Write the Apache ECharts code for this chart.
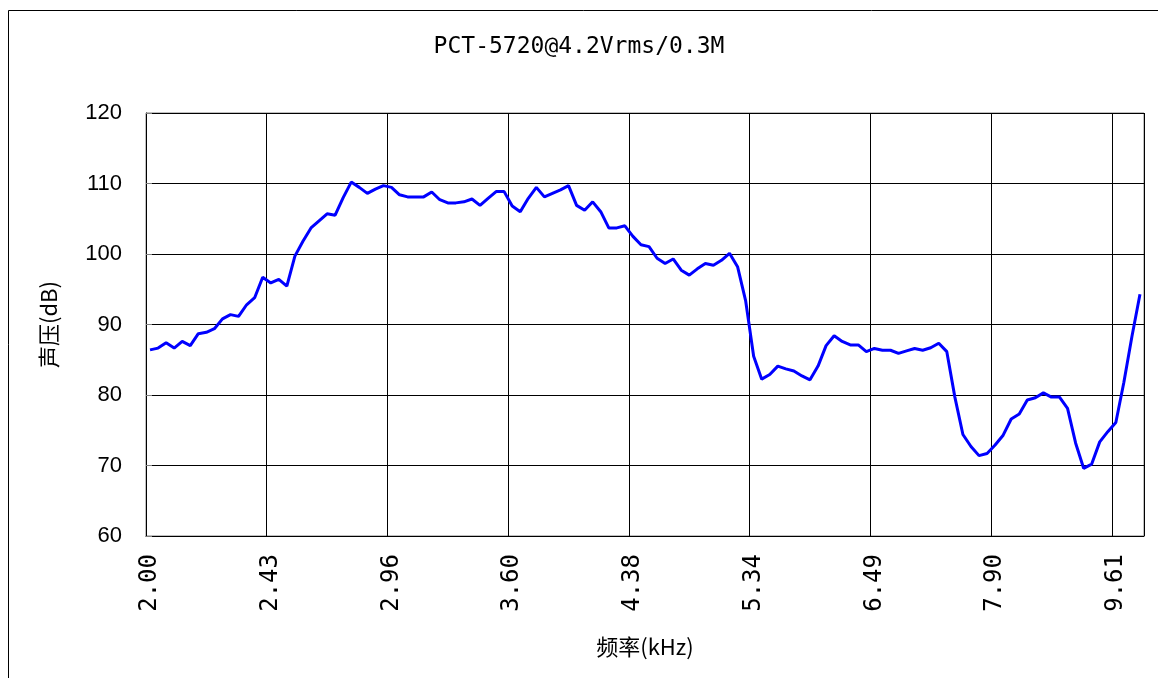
<!DOCTYPE html>
<html>
<head>
<meta charset="utf-8">
<script src="https://cdn.jsdelivr.net/npm/echarts@6/dist/echarts.min.js"></script>
<style>
  html, body { margin: 0; padding: 0; background: #fff; }
  #chart { width: 1158px; height: 678px; }
</style>
</head>
<body>
<div id="chart"></div>
<script>
// 频率点 (kHz)
var freqs = [
    2.00, 2.03, 2.05, 2.08, 2.11, 2.14, 2.16, 2.19, 2.22, 2.25, 2.28, 2.31, 2.34, 2.37, 2.40,
    2.43, 2.47, 2.50, 2.53, 2.56, 2.60, 2.63, 2.67, 2.70, 2.74, 2.77, 2.81, 2.85, 2.88, 2.92,
    2.96, 3.00, 3.04, 3.08, 3.12, 3.16, 3.20, 3.25, 3.29, 3.33, 3.37, 3.42, 3.46, 3.51, 3.56,
    3.60, 3.65, 3.70, 3.75, 3.80, 3.85, 3.90, 3.95, 4.00, 4.05, 4.11, 4.16, 4.22, 4.27, 4.33,
    4.38, 4.44, 4.50, 4.56, 4.62, 4.68, 4.74, 4.80, 4.87, 4.93, 5.00, 5.06, 5.13, 5.20, 5.27,
    5.34, 5.40, 5.48, 5.55, 5.62, 5.70, 5.77, 5.85, 5.92, 6.00, 6.08, 6.16, 6.24, 6.32, 6.41,
    6.49, 6.58, 6.66, 6.75, 6.84, 6.93, 7.02, 7.11, 7.21, 7.30, 7.40, 7.50, 7.59, 7.69, 7.80,
    7.90, 8.00, 8.11, 8.21, 8.32, 8.43, 8.54, 8.66, 8.77, 8.88, 9.00, 9.12, 9.24, 9.36, 9.49,
    9.61, 9.74, 9.86, 9.99
];

// 声压 (dB)
var spl = [
    86.4, 86.65, 87.4, 86.65, 87.6, 87.0, 88.7, 88.9, 89.4, 90.8, 91.4, 91.15, 92.8, 93.8, 96.7,
    95.9, 96.4, 95.45, 99.7, 101.8, 103.7, 104.7, 105.7, 105.5, 108.0, 110.2, 109.45, 108.6, 109.2, 109.7,
    109.45, 108.4, 108.1, 108.1, 108.1, 108.8, 107.7, 107.25, 107.25, 107.4, 107.8, 106.9, 107.9, 108.85, 108.85,
    106.8, 106.0, 107.9, 109.45, 108.1, 108.6, 109.1, 109.7, 106.9, 106.2, 107.4, 106.0, 103.7, 103.7, 104.0,
    102.5, 101.3, 101.05, 99.4, 98.65, 99.3, 97.7, 97.0, 97.9, 98.65, 98.4, 99.1, 100.1, 98.2, 93.4,
    85.5, 82.25, 82.9, 84.1, 83.7, 83.4, 82.7, 82.15, 84.1, 87.0, 88.4, 87.6, 87.1, 87.1, 86.15,
    86.6, 86.35, 86.35, 85.9, 86.25, 86.6, 86.35, 86.7, 87.35, 86.15, 79.7, 74.4, 72.7, 71.4, 71.7,
    72.9, 74.3, 76.6, 77.3, 79.3, 79.6, 80.3, 79.7, 79.7, 78.1, 73.2, 69.6, 70.2, 73.35, 74.8,
    76.1, 81.8, 88.3, 94.3
];

var yMin = 60, yMax = 120, yStep = 10;
var labelEvery = 15;

var titleText = 'PCT-5720@4.2Vrms/0.3M';
var xName = '频率(kHz)';
var yName = '声压(dB)';

var mono = '"DejaVu Sans Mono", monospace';
var cjk = '"Noto Sans CJK SC", "Liberation Sans", sans-serif';

var chart = echarts.init(document.getElementById('chart'));
chart.setOption({
    animation: false,
    backgroundColor: '#fff',
    graphic: [{
        type: 'rect',
        shape: { x: 8.5, y: 10.5, width: 1200, height: 700 },
        style: { fill: 'none', stroke: '#000', lineWidth: 1 },
        silent: true
    }],
    title: {
        text: titleText,
        left: 'center',
        top: 31,
        textStyle: { fontFamily: mono, fontSize: 23, fontWeight: 'normal', color: '#000' }
    },
    grid: {
        left: 146,
        top: 113,
        right: 14,
        bottom: 142,
        show: true,
        borderColor: '#808080',
        borderWidth: 1
    },
    xAxis: {
        type: 'category',
        data: freqs,
        boundaryGap: true,
        name: xName,
        nameLocation: 'middle',
        nameGap: 100,
        nameTextStyle: { fontFamily: cjk, fontSize: 22, color: '#000' },
        axisLine: { lineStyle: { color: '#000', width: 1 } },
        axisTick: { show: false, interval: labelEvery - 1 },
        axisLabel: {
            interval: labelEvery - 1,
            rotate: 90,
            margin: 18,
            fontFamily: mono,
            fontSize: 24,
            color: '#000',
            formatter: function (v) { return Number(v).toFixed(2); }
        },
        splitLine: { show: true, interval: labelEvery - 1, lineStyle: { color: '#000', width: 1 } }
    },
    yAxis: {
        type: 'value',
        min: yMin,
        max: yMax,
        interval: yStep,
        name: yName,
        nameLocation: 'middle',
        nameGap: 86,
        nameTextStyle: { fontFamily: cjk, fontSize: 22, color: '#000' },
        axisLine: { show: true, lineStyle: { color: '#000', width: 1 } },
        axisTick: { show: true, inside: true, length: 6, lineStyle: { color: '#808080' } },
        axisLabel: { margin: 24, fontFamily: '"Liberation Sans Narrow", "Liberation Sans", sans-serif', fontSize: 22, color: '#000' },
        splitLine: { show: true, lineStyle: { color: '#000', width: 1 } }
    },
    series: [{
        type: 'line',
        data: spl,
        showSymbol: false,
        symbol: 'none',
        lineStyle: { color: '#0000ff', width: 3 },
        itemStyle: { color: '#0000ff' }
    }]
});
</script>
</body>
</html>
